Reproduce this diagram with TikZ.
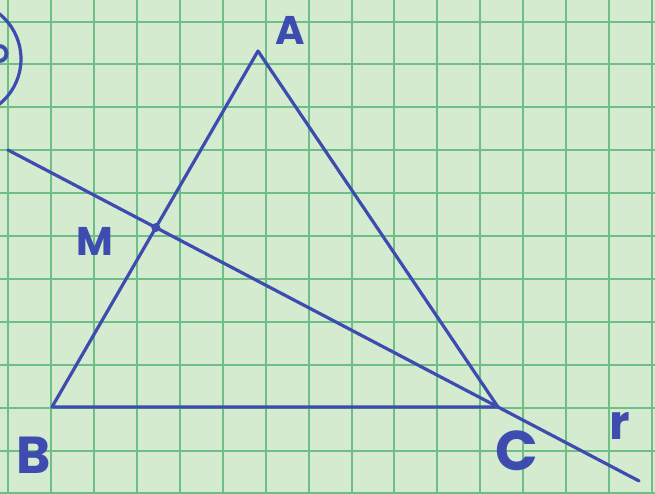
\documentclass[tikz,border=0pt]{standalone}
\usepackage{fontspec}
\usetikzlibrary{calc}
\newfontfamily\hand{Poppins}
\definecolor{paper}{RGB}{213,235,207}
\definecolor{gridc}{RGB}{110,191,134}
\definecolor{ink}{RGB}{62,76,176}
\tikzset{
  gridline/.style={draw=gridc, line width=2pt},
  inkline/.style={draw=ink, line width=3.2pt, line cap=round, line join=round},
  lbl/.style={text=ink, inner sep=0pt}
}
\begin{document}
\begin{tikzpicture}[x=1pt,y=-1pt]
  \useasboundingbox (0,0) rectangle (655,493);
  \fill[paper] (0,0) rectangle (655,493);
  % grid
  \foreach \k in {0,...,15} {
    \draw[gridline] ({8.3+42.9*\k},0) -- ({8.3+42.9*\k},493);
  }
  \foreach \k in {0,...,11} {
    \draw[gridline] (0,{21.5+42.9*\k}) -- (655,{21.5+42.9*\k});
  }
  % points
  \coordinate (A) at (258,51);
  \coordinate (B) at (52,407);
  \coordinate (C) at (498,407);
  \coordinate (R1) at (8,150);
  \coordinate (R2) at ($(R1)!1.2878!(C)$);
  \coordinate (M) at (intersection of A--B and R1--C);
  % triangle
  \draw[inkline] (A) -- (B) -- (C) -- cycle;
  % line r
  \draw[inkline] (R1) -- (R2);
  \fill[ink] (M) circle (4.5);
  % labels
  \node[lbl, font=\hand\bfseries\fontsize{40}{40}\selectfont] (lA) at (290,30) {A};
  \node[lbl, font=\hand\bfseries\fontsize{40}{40}\selectfont] (lM) at (95,241) {M};
  \node[lbl, font=\hand\bfseries\fontsize{52}{52}\selectfont] (lB) at (34,455) {B};
  \node[lbl, font=\hand\bfseries\fontsize{56}{56}\selectfont] (lC) at (517,451) {C};
  \node[lbl, font=\hand\bfseries\fontsize{48}{48}\selectfont] (lr) at (620,426) {r};
  % cut-off circle at top left
  \draw[inkline] (-37,59) circle (58);
  \draw[draw=ink, line width=4pt] (-1,46) .. controls (9,46) and (9,61) .. (-1,61);
\end{tikzpicture}
\end{document}
